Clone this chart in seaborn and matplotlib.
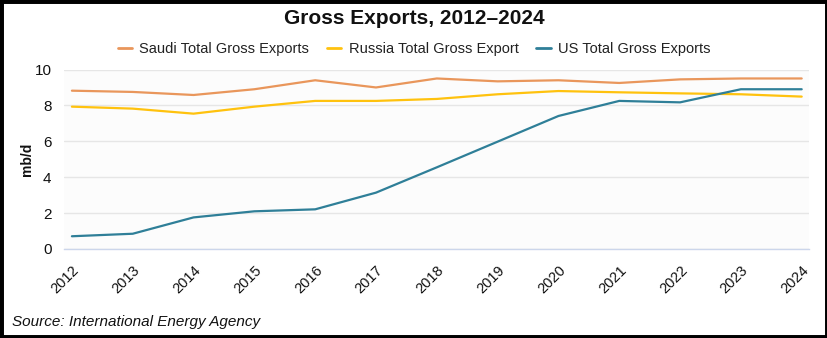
import matplotlib
matplotlib.use("Agg")
import matplotlib.pyplot as plt
from matplotlib.patches import Rectangle
import pandas as pd
import seaborn as sns

years = list(range(2012, 2025))
saudi = [8.82, 8.75, 8.58, 8.90, 9.40, 9.00, 9.50, 9.34, 9.40, 9.25, 9.45, 9.50, 9.50]
russia = [7.93, 7.82, 7.54, 7.93, 8.25, 8.25, 8.36, 8.62, 8.80, 8.73, 8.67, 8.62, 8.49]
us = [0.71, 0.85, 1.76, 2.10, 2.21, 3.14, 4.55, 5.98, 7.41, 8.25, 8.17, 8.90, 8.90]

series_names = ["Saudi Total Gross Exports", "Russia Total Gross Export", "US Total Gross Exports"]
colors = ["#E9965B", "#FFC20E", "#2F7F98"]

df = pd.concat([
    pd.DataFrame({"year": years, "value": vals, "series": name})
    for name, vals in zip(series_names, [saudi, russia, us])
])

sns.set_theme(style="white")
plt.rcParams["font.family"] = ["Liberation Sans", "DejaVu Sans"]

fig = plt.figure(figsize=(8.28, 3.38), dpi=100)
W, H = 828, 338
ax = fig.add_axes([64 / W, (H - 249) / H, (809 - 64) / W, (249 - 69.5) / H])
ax.set_facecolor("#FCFCFC")

sns.lineplot(data=df, x="year", y="value", hue="series", hue_order=series_names,
             palette=colors, linewidth=1.6, ax=ax, legend=False)

ax.set_xlim(2011.87, 2024.12)
ax.set_ylim(0, 10)
ax.set_yticks([0, 2, 4, 6, 8, 10])
ax.set_xticks(years)
ax.set_xticklabels([str(y) for y in years], rotation=45, ha="right",
                   rotation_mode="anchor", fontsize=10.5, color="#111111")
ax.tick_params(axis="y", labelsize=11, colors="#111111", length=0, pad=9)
ax.tick_params(axis="x", length=6, width=1, color="#CCD6EB", pad=4, direction="out")
ax.grid(axis="y", color="#E6E6E6", linewidth=1)
ax.set_axisbelow(True)
for side in ["top", "right", "left"]:
    ax.spines[side].set_visible(False)
ax.spines["bottom"].set_color("#CCD6EB")
ax.spines["bottom"].set_linewidth(1)
ax.set_xlabel("")
ax.set_ylabel("mb/d", fontsize=10, fontweight="bold", color="#111111", labelpad=0)

# title, legend and source note
fig.text(0.5, 1 - 18 / H, "Gross Exports, 2012\u20132024", ha="center", va="center",
         fontsize=15, fontweight="bold", color="#111111")
handles = [plt.Line2D([0], [0], color=c, linewidth=2) for c in colors]
fig.legend(handles, series_names, loc="center", bbox_to_anchor=(0.5, 1 - 49 / H),
           ncol=3, frameon=False, fontsize=10.5, handlelength=1.0, handletextpad=0.5,
           columnspacing=1.2, labelcolor="#222222")
fig.text(12 / W, 1 - 322 / H, "Source: International Energy Agency", ha="left", va="center",
         fontsize=11, fontstyle="italic", color="#111111")

# black frame around the figure
fig.patches.append(Rectangle((0, 0), 1, 1, transform=fig.transFigure, fill=False,
                             edgecolor="black", linewidth=5, zorder=10))

fig.savefig("out.png", dpi=100, facecolor="white")
